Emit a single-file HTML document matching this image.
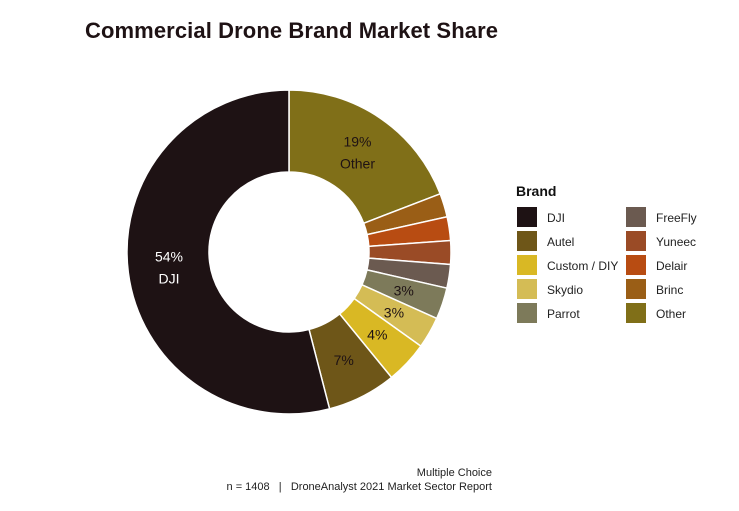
<!DOCTYPE html>
<html><head><meta charset="utf-8"><style>
body{margin:0;background:#fff;width:739px;height:506px;overflow:hidden;font-family:"Liberation Sans",sans-serif}
</style></head><body>
<svg width="739" height="506">
<text x="85" y="38" font-size="22" font-weight="bold" fill="#1e1214" textLength="413">Commercial Drone Brand Market Share</text>
<g id="slices"></g>
<g id="labels"></g>
<text x="516" y="196" font-size="14" font-weight="bold" fill="#111">Brand</text>
<g id="legend"></g>
<text x="492" y="476" font-size="11" text-anchor="end" fill="#222">Multiple Choice</text>
<text x="492" y="490" font-size="11" text-anchor="end" fill="#222" style="white-space:pre">n = 1408   |   DroneAnalyst 2021 Market Sector Report</text>
</svg>
<script>
const categories=["Other","Brinc","Delair","Yuneec","FreeFly","Parrot","Skydio","Custom / DIY","Autel","DJI"];
const values=[19.5,2.4,2.4,2.4,2.4,3.2,3.2,4.3,7,55];
const labels=["19%\nOther","","","","","3%","3%","4%","7%","54%\nDJI"];
const colors=["#806f18","#9a5e16","#b84c12","#9a4b26","#6b5a50","#7d7a5a","#d4bc55","#d9b824","#6e5618","#1e1214"];
const legendOrder=["DJI","Autel","Custom / DIY","Skydio","Parrot","FreeFly","Yuneec","Delair","Brinc","Other"];
const NS="http://www.w3.org/2000/svg";
const cx=289,cy=252,R=162,r=80;
const total=values.reduce((a,b)=>a+b,0);
const pt=(a,rad)=>[cx+rad*Math.sin(a),cy-rad*Math.cos(a)];
let acc=0;
const sg=document.getElementById('slices'),lg=document.getElementById('labels');
values.forEach((v,i)=>{
  const a0=acc/total*2*Math.PI;acc+=v;const a1=acc/total*2*Math.PI;
  const large=(a1-a0)>Math.PI?1:0;
  const [x0,y0]=pt(a0,R),[x1,y1]=pt(a1,R),[x2,y2]=pt(a1,r),[x3,y3]=pt(a0,r);
  const p=document.createElementNS(NS,'path');
  p.setAttribute('d',`M${x0},${y0}A${R},${R} 0 ${large} 1 ${x1},${y1}L${x2},${y2}A${r},${r} 0 ${large} 0 ${x3},${y3}Z`);
  p.setAttribute('fill',colors[i]);p.setAttribute('stroke','#fff');p.setAttribute('stroke-width','1.5');
  
  
  sg.appendChild(p);
  if(labels[i]){
    const am=(a0+a1)/2;const [lx,ly]=pt(am,(R+r)/2);
    const lines=labels[i].split('\n');
    lines.forEach((s,k)=>{
      const t=document.createElementNS(NS,'text');
      t.setAttribute('x',lx);t.setAttribute('y',ly+5+(k-(lines.length-1)/2)*22);
      t.setAttribute('text-anchor','middle');t.setAttribute('font-size','14');
      t.setAttribute('fill',i===9?'#fff':'#1e1214');
      t.textContent=s;
      
      
      lg.appendChild(t);
    });
  }
});
const leg=document.getElementById('legend');
legendOrder.forEach((c,j)=>{
  const col=Math.floor(j/5),row=j%5;
  const x=517+col*109,y=207+row*24;
  const rc=document.createElementNS(NS,'rect');
  rc.setAttribute('x',x);rc.setAttribute('y',y);rc.setAttribute('width',20);rc.setAttribute('height',20);
  rc.setAttribute('fill',colors[categories.indexOf(c)]);
  
  
  leg.appendChild(rc);
  const t=document.createElementNS(NS,'text');
  t.setAttribute('x',x+30);t.setAttribute('y',y+15);t.setAttribute('font-size','12');t.setAttribute('fill','#222');
  t.textContent=c;
  
  
  leg.appendChild(t);
});
</script>
</body></html>
